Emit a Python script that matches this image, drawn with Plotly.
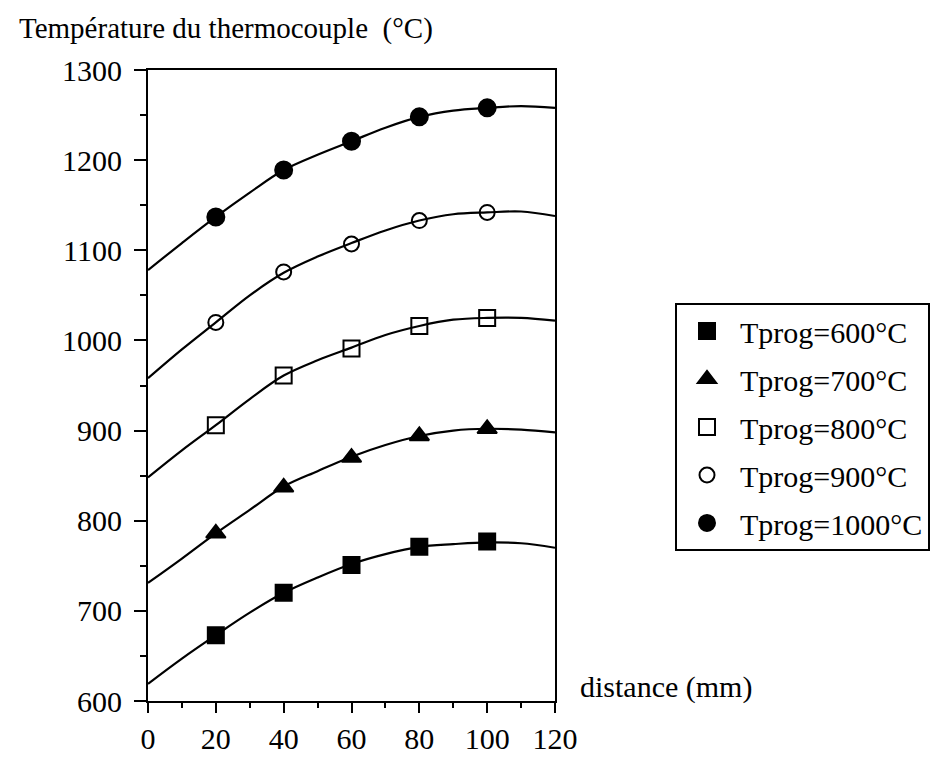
import plotly.graph_objects as go

# Measured points (distance in mm, thermocouple temperature in °C)
dist_pts = [20, 40, 60, 80, 100]
t600 = [673, 720, 751, 771, 777]
t700 = [786, 837, 870, 894, 902]
t800 = [906, 961, 991, 1016, 1025]
t900 = [1020, 1076, 1107, 1133, 1142]
t1000 = [1137, 1189, 1221, 1248, 1258]

# Fitted curves
dist_fit = [0, 10, 20, 30, 40, 50, 60, 70, 80, 90, 100, 110, 120]
fit600 = [619, 647, 673, 698, 720, 737, 752, 763, 771, 774, 776, 775, 770]
fit700 = [731, 758, 786, 812, 838, 855, 871, 884, 894, 900, 902, 901, 898]
fit800 = [848, 878, 906, 935, 961, 978, 992, 1006, 1016, 1023, 1025, 1025, 1022]
fit900 = [958, 990, 1020, 1050, 1075, 1093, 1108, 1122, 1133, 1140, 1142, 1143, 1138]
fit1000 = [1078, 1108, 1137, 1164, 1189, 1206, 1221, 1236, 1248, 1255, 1258, 1260, 1258]

names = ["Tprog=600°C", "Tprog=700°C", "Tprog=800°C", "Tprog=900°C", "Tprog=1000°C"]
symbols = ["square", "triangle-up", "square-open", "circle-open", "circle"]
sizes = [16, 17, 16, 15, 17]
pts = [t600, t700, t800, t900, t1000]
fits = [fit600, fit700, fit800, fit900, fit1000]

FONT = "Liberation Serif"
fig = go.Figure()

for f in fits:
    fig.add_trace(go.Scatter(x=dist_fit, y=f, mode="lines", line=dict(color="black", width=2.2, shape="spline"),
                             showlegend=False, hoverinfo="skip"))

for i, (n, s, sz, p) in enumerate(zip(names, symbols, sizes, pts)):
    fig.add_trace(go.Scatter(x=dist_pts, y=p, mode="markers", name=n, legendgroup=str(i),
                             marker=dict(symbol=s, size=sz, color="black", line=dict(color="black", width=2))))

fig.update_layout(
    width=941, height=759, autosize=False,
    margin=dict(l=140, r=394, t=62, b=57),
    paper_bgcolor="white", plot_bgcolor="white",
    font=dict(family=FONT, size=30, color="black"),
    showlegend=True,
    legend=dict(x=(667 - 140) / 407, y=(701.7 - 298) / 640, xanchor="left", yanchor="top",
                bordercolor="black", borderwidth=2, bgcolor="white",
                font=dict(family=FONT, size=30, color="black"),
                itemwidth=56, indentation=-3, entrywidth=268, entrywidthmode="pixels",
                tracegroupgap=6, traceorder="grouped"),
    xaxis=dict(range=[0, 120], tick0=0, dtick=20, showgrid=False, zeroline=False,
               showline=True, linecolor="black", linewidth=2, mirror=True,
               ticks="outside", ticklen=10, tickwidth=2, tickcolor="black",
               minor=dict(dtick=10, ticks="outside", ticklen=5, tickwidth=2, tickcolor="black"),
               tickfont=dict(family=FONT, size=30)),
    yaxis=dict(range=[600, 1300], tick0=600, dtick=100, showgrid=False, zeroline=False,
               showline=True, linecolor="black", linewidth=2, mirror=True,
               ticks="outside", ticklen=12, tickwidth=2, tickcolor="black",
               ticklabelstandoff=6,
               minor=dict(dtick=50, ticks="outside", ticklen=6, tickwidth=2, tickcolor="black"),
               tickfont=dict(family=FONT, size=30)),
    annotations=[
        dict(text="Température du thermocouple \u00a0(°C)", xref="paper", yref="paper",
             x=(9 - 140) / 407, y=(701.7 - 20) / 640, xanchor="left", yanchor="middle",
             showarrow=False, font=dict(family=FONT, size=29)),
        dict(text="distance (mm)", xref="paper", yref="paper",
             x=(570 - 140) / 407, y=(701.7 - 687) / 640, xanchor="left", yanchor="middle",
             showarrow=False, font=dict(family=FONT, size=30)),
    ],
)

fig.write_html("out.html")
